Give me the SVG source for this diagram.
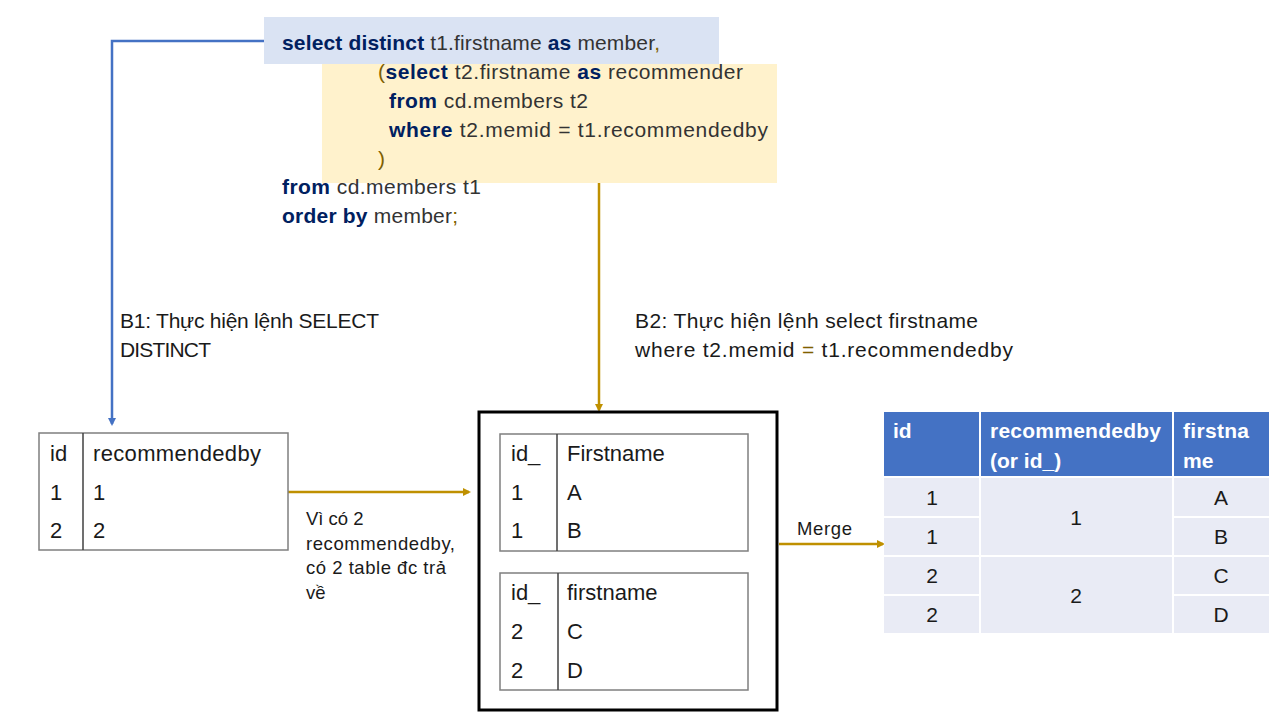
<svg xmlns="http://www.w3.org/2000/svg" width="1280" height="720" viewBox="0 0 1280 720">
<defs>
<style>
text{font-family:"Liberation Sans",Arial,sans-serif;fill:#1a1a1a}
.code{font-size:21px;fill:#333}
.kw{font-weight:bold;fill:#002060}
.ol{fill:#7f6000}
.lbl{font-size:21px}
.small{font-size:18.5px}
.cell{font-size:22px}
.hd{font-size:21px;font-weight:bold;fill:#fff}
.bc{font-size:21px;text-anchor:middle}
.tbl{fill:#fff;stroke:#7f7f7f;stroke-width:1.5}
.div{stroke:#404040;stroke-width:1.5}
</style>
<marker id="ab" markerWidth="8" markerHeight="8" refX="6" refY="4" orient="auto" markerUnits="userSpaceOnUse"><path d="M0,0 L8,4 L0,8 Z" fill="#4472c4"/></marker>
<marker id="ag" markerWidth="8" markerHeight="8" refX="6" refY="4" orient="auto" markerUnits="userSpaceOnUse"><path d="M0,0 L8,4 L0,8 Z" fill="#bf9000"/></marker>
</defs>
<rect width="1280" height="720" fill="#fff"/>

<g id="sql">
<rect x="264" y="17" width="455" height="47" fill="#dae3f3"/>
<rect x="322" y="64" width="455" height="119" fill="#fff2cc"/>
<text class="code" x="282" y="50" textLength="378"><tspan class="kw">select distinct</tspan> t1.firstname <tspan class="kw">as</tspan> member<tspan class="ol">,</tspan></text>
<text class="code" x="378" y="79" textLength="365"><tspan class="ol">(</tspan><tspan class="kw">select</tspan> t2.firstname  <tspan class="kw">as</tspan> recommender</text>
<text class="code" x="389" y="108" textLength="199"><tspan class="kw">from</tspan> cd.members t2</text>
<text class="code" x="389" y="137" textLength="379"><tspan class="kw">where</tspan> t2.memid = t1.recommendedby</text>
<text class="code ol" x="378" y="166">)</text>
<text class="code" x="282" y="194" textLength="199"><tspan class="kw">from</tspan> cd.members t1</text>
<text class="code" x="282" y="223" textLength="176"><tspan class="kw">order by</tspan> member<tspan class="ol">;</tspan></text>
</g>

<g id="connectors" fill="none" stroke-width="2.5">
<polyline points="264,41 112,41 112,424" stroke="#4472c4" marker-end="url(#ab)"/>
<line x1="599" y1="183" x2="599" y2="410" stroke="#bf9000" marker-end="url(#ag)"/>
<line x1="288" y1="492" x2="469" y2="492" stroke="#bf9000" marker-end="url(#ag)"/>
<line x1="779" y1="544" x2="883" y2="544" stroke="#bf9000" marker-end="url(#ag)"/>
</g>

<g id="label-b1">
<text class="lbl" x="120" y="328" textLength="259">B1: Thực hiện lệnh SELECT</text>
<text class="lbl" x="120" y="357" textLength="91">DISTINCT</text>
</g>
<g id="label-b2">
<text class="lbl" x="635" y="328" textLength="343">B2: Thực hiện lệnh select firstname</text>
<text class="lbl" x="635" y="357" textLength="378">where t2.memid <tspan class="ol">=</tspan> t1.recommendedby</text>
</g>

<g id="table-left">
<rect class="tbl" x="39" y="433" width="249" height="117"/>
<line class="div" x1="83" y1="433" x2="83" y2="550"/>
<text class="cell" x="50" y="461">id</text>
<text class="cell" x="93" y="461" textLength="168">recommendedby</text>
<text class="cell" x="50" y="500">1</text>
<text class="cell" x="93" y="500">1</text>
<text class="cell" x="50" y="538">2</text>
<text class="cell" x="93" y="538">2</text>
</g>

<g id="label-note">
<text class="small" x="306" y="525">Vì có 2</text>
<text class="small" x="306" y="550" textLength="149">recommendedby,</text>
<text class="small" x="306" y="574" textLength="140">có 2 table đc trả</text>
<text class="small" x="306" y="599">về</text>
</g>

<g id="box-middle">
<rect x="479" y="412" width="298" height="298" fill="#fff" stroke="#000" stroke-width="3"/>
<rect class="tbl" x="500" y="434" width="248" height="117"/>
<line class="div" x1="557" y1="434" x2="557" y2="551"/>
<text class="cell" x="511" y="461">id_</text>
<text class="cell" x="567" y="461">Firstname</text>
<text class="cell" x="511" y="500">1</text>
<text class="cell" x="567" y="500">A</text>
<text class="cell" x="511" y="538">1</text>
<text class="cell" x="567" y="538">B</text>
<rect class="tbl" x="500" y="573" width="248" height="117"/>
<line class="div" x1="558" y1="573" x2="558" y2="690"/>
<text class="cell" x="511" y="600">id_</text>
<text class="cell" x="567" y="600">firstname</text>
<text class="cell" x="511" y="639">2</text>
<text class="cell" x="567" y="639">C</text>
<text class="cell" x="511" y="678">2</text>
<text class="cell" x="567" y="678">D</text>
</g>

<g id="label-merge">
<text class="small" x="797" y="535" textLength="55">Merge</text>
</g>

<g id="table-result">
<rect x="884" y="412" width="385" height="64" fill="#4472c4"/>
<rect x="884" y="478" width="385" height="155" fill="#e9ebf5"/>
<g stroke="#fff" stroke-width="2">
<line x1="980" y1="412" x2="980" y2="633"/>
<line x1="1173" y1="412" x2="1173" y2="633"/>
<line x1="884" y1="517" x2="980" y2="517"/>
<line x1="1173" y1="517" x2="1269" y2="517"/>
<line x1="884" y1="556" x2="1269" y2="556"/>
<line x1="884" y1="595" x2="980" y2="595"/>
<line x1="1173" y1="595" x2="1269" y2="595"/>
</g>
<text class="hd" x="893" y="438">id</text>
<text class="hd" x="990" y="438" textLength="171">recommendedby</text>
<text class="hd" x="990" y="468">(or id_)</text>
<text class="hd" x="1183" y="438" textLength="66">firstna</text>
<text class="hd" x="1183" y="468">me</text>
<text class="bc" x="932" y="505">1</text>
<text class="bc" x="932" y="544">1</text>
<text class="bc" x="932" y="583">2</text>
<text class="bc" x="932" y="622">2</text>
<text class="bc" x="1076" y="525">1</text>
<text class="bc" x="1076" y="603">2</text>
<text class="bc" x="1221" y="505">A</text>
<text class="bc" x="1221" y="544">B</text>
<text class="bc" x="1221" y="583">C</text>
<text class="bc" x="1221" y="622">D</text>
</g>
</svg>
